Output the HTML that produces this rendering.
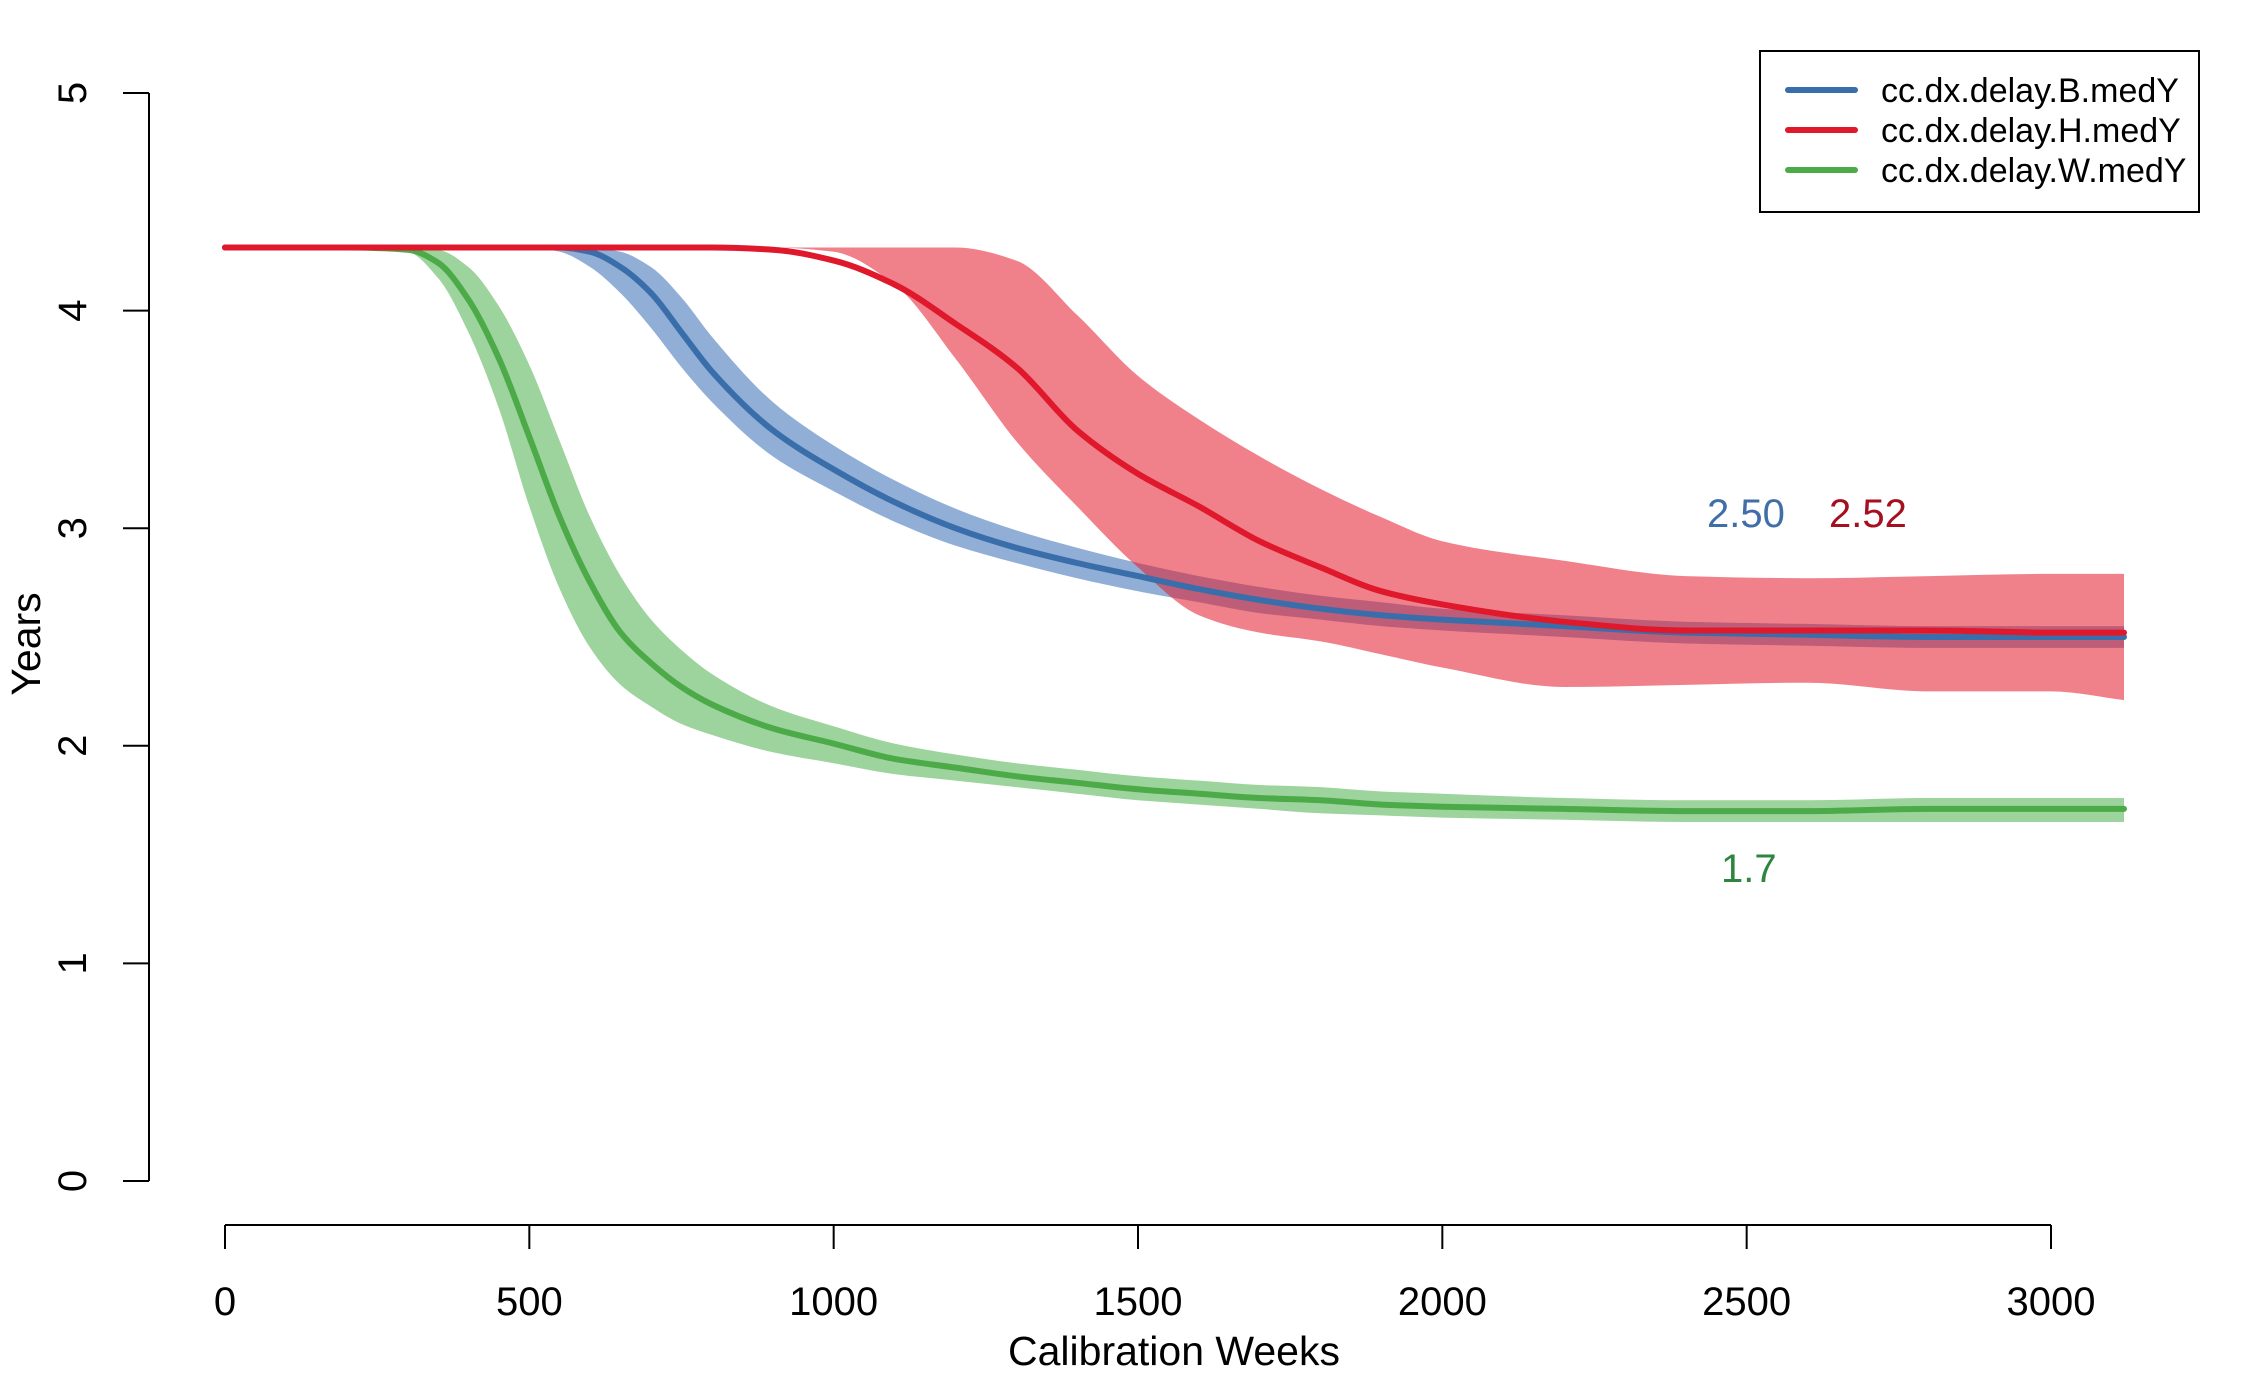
<!DOCTYPE html>
<html><head><meta charset="utf-8"><style>
html,body{margin:0;padding:0;background:#fff;}
svg{display:block;font-family:"Liberation Sans",Arial,sans-serif;}
</style></head><body>
<svg id="chart" width="2250" height="1375" viewBox="0 0 2250 1375" xmlns="http://www.w3.org/2000/svg">
<g id="bands"></g>
<g id="lines"></g>
<g id="axes"></g>
<text x="0" y="0" font-size="41" text-anchor="middle" transform="translate(40,644) rotate(-90)">Years</text>
<text x="1174" y="1365" font-size="41" text-anchor="middle">Calibration Weeks</text>
<text x="1707" y="527" font-size="40" fill="#3F6EA8">2.50</text>
<text x="1829" y="527" font-size="40" fill="#A50F1E">2.52</text>
<text x="1721" y="882" font-size="40" fill="#2E8540">1.7</text>
<g>
<rect x="1760" y="51" width="439" height="161" fill="#fff" stroke="#000" stroke-width="2"/>
<line x1="1788" y1="90" x2="1855" y2="90" stroke="#3A6EAA" stroke-width="6" stroke-linecap="round"/>
<line x1="1788" y1="130" x2="1855" y2="130" stroke="#E0182C" stroke-width="6" stroke-linecap="round"/>
<line x1="1788" y1="170" x2="1855" y2="170" stroke="#4DAA48" stroke-width="6" stroke-linecap="round"/>
<text x="1881" y="102" font-size="34">cc.dx.delay.B.medY</text>
<text x="1881" y="142" font-size="34">cc.dx.delay.H.medY</text>
<text x="1881" y="182" font-size="34">cc.dx.delay.W.medY</text>
</g>
</svg>
<script>
const weeks = [0,100,200,300,350,400,450,500,550,600,650,700,750,800,900,1000,1100,1200,1300,1400,1500,1600,1700,1800,1900,2000,2200,2400,2600,2800,3000,3120];
const greenMed = [4.29,4.29,4.29,4.28,4.22,4.05,3.78,3.42,3.05,2.75,2.52,2.38,2.27,2.19,2.08,2.01,1.94,1.90,1.86,1.83,1.80,1.78,1.76,1.75,1.73,1.72,1.71,1.70,1.70,1.71,1.71,1.71];
const greenHi = [4.29,4.29,4.29,4.29,4.28,4.20,4.02,3.75,3.40,3.05,2.78,2.58,2.44,2.33,2.18,2.09,2.01,1.96,1.92,1.89,1.86,1.84,1.82,1.81,1.79,1.78,1.76,1.75,1.75,1.76,1.76,1.76];
const greenLo = [4.29,4.29,4.29,4.27,4.15,3.90,3.55,3.10,2.72,2.45,2.28,2.18,2.10,2.05,1.97,1.92,1.87,1.84,1.81,1.78,1.75,1.73,1.71,1.69,1.68,1.67,1.66,1.65,1.65,1.65,1.65,1.65];
const blueMed = [4.29,4.29,4.29,4.29,4.29,4.29,4.29,4.29,4.29,4.27,4.20,4.08,3.90,3.72,3.45,3.27,3.12,3.00,2.91,2.84,2.78,2.72,2.67,2.63,2.60,2.58,2.55,2.52,2.51,2.50,2.50,2.50];
const blueHi = [4.29,4.29,4.29,4.29,4.29,4.29,4.29,4.29,4.29,4.29,4.27,4.20,4.06,3.88,3.58,3.38,3.22,3.09,2.99,2.91,2.84,2.78,2.73,2.69,2.66,2.63,2.60,2.57,2.56,2.55,2.55,2.55];
const blueLo = [4.29,4.29,4.29,4.29,4.29,4.29,4.29,4.29,4.27,4.20,4.08,3.92,3.74,3.58,3.33,3.17,3.03,2.92,2.84,2.77,2.71,2.66,2.61,2.58,2.55,2.53,2.50,2.47,2.46,2.45,2.45,2.45];
const redMed = [4.29,4.29,4.29,4.29,4.29,4.29,4.29,4.29,4.29,4.29,4.29,4.29,4.29,4.29,4.28,4.23,4.12,3.94,3.74,3.45,3.25,3.10,2.94,2.82,2.71,2.65,2.57,2.53,2.53,2.53,2.52,2.52];
const redHi = [4.29,4.29,4.29,4.29,4.29,4.29,4.29,4.29,4.29,4.29,4.29,4.29,4.29,4.29,4.29,4.29,4.29,4.29,4.23,3.98,3.70,3.50,3.33,3.18,3.05,2.94,2.85,2.78,2.77,2.78,2.79,2.79];
const redLo = [4.29,4.29,4.29,4.29,4.29,4.29,4.29,4.29,4.29,4.29,4.29,4.29,4.29,4.29,4.29,4.27,4.12,3.78,3.40,3.10,2.82,2.60,2.52,2.48,2.42,2.36,2.27,2.28,2.29,2.25,2.25,2.21];
const xTicks = [0,500,1000,1500,2000,2500,3000];
const yTicks = [0,1,2,3,4,5];

const NS = "http://www.w3.org/2000/svg";
function X(w){ return 225 + w*(1826/3000); }
function Y(v){ return 1181 - v*217.6; }
function mk(tag, attrs, parent){
  const e = document.createElementNS(NS, tag);
  for (const k in attrs) e.setAttribute(k, attrs[k]);
  parent.appendChild(e);
  return e;
}
// monotone cubic (Fritsch-Carlson) path
function smoothPath(pts, startCmd){
  const n = pts.length;
  const dx = [], m = [], t = new Array(n);
  for (let i=0;i<n-1;i++){ dx[i]=pts[i+1][0]-pts[i][0]; m[i]=(pts[i+1][1]-pts[i][1])/dx[i]; }
  t[0]=m[0]; t[n-1]=m[n-2];
  for (let i=1;i<n-1;i++){
    if (m[i-1]*m[i] <= 0) t[i]=0;
    else { const w1=2*dx[i]+dx[i-1], w2=dx[i]+2*dx[i-1]; t[i]=(w1+w2)/(w1/m[i-1]+w2/m[i]); }
  }
  let d = (startCmd||"M") + pts[0][0].toFixed(1) + "," + pts[0][1].toFixed(1);
  for (let i=0;i<n-1;i++){
    const h = dx[i]/3;
    d += " C" + (pts[i][0]+h).toFixed(1)+","+(pts[i][1]+t[i]*h).toFixed(1)+" "+(pts[i+1][0]-h).toFixed(1)+","+(pts[i+1][1]-t[i+1]*h).toFixed(1)+" "+pts[i+1][0].toFixed(1)+","+pts[i+1][1].toFixed(1);
  }
  return d;
}
function revPath(pts){
  // pts given in reverse x order; build by mirroring x
  const mir = pts.map(p=>[-p[0],p[1]]);
  return smoothPath(mir, "L").replace(/(-?\d+\.\d),(-?\d+\.\d)/g, (s,a,b)=>(-parseFloat(a)).toFixed(1)+","+b);
}
const bands = document.getElementById('bands');
const lines = document.getElementById('lines');
const axes = document.getElementById('axes');

function band(hi, lo, fill, name){
  const top = weeks.map((w,i)=>[X(w),Y(hi[i])]);
  const bot = weeks.map((w,i)=>[X(w),Y(lo[i])]).reverse();
  const d = smoothPath(top) + " " + revPath(bot) + " Z";
  const p = mk('path', {d:d, fill:fill, stroke:'none'}, bands);
  
  
}
band(greenHi, greenLo, 'rgba(77,175,74,0.55)', 'band-w');
band(blueHi, blueLo, 'rgba(55,110,180,0.55)', 'band-b');
band(redHi, redLo, 'rgba(228,26,44,0.55)', 'band-h');

function line(vals, color, name){
  const pts = weeks.map((w,i)=>[X(w),Y(vals[i])]);
  const p = mk('path', {d:smoothPath(pts), fill:'none', stroke:color, 'stroke-width':6, 'stroke-linecap':'round'}, lines);
  
  
}
line(greenMed, '#4DAA48', 'line-w');
line(blueMed, '#3A6EAA', 'line-b');
line(redMed, '#E0182C', 'line-h');

const ya = mk('line', {x1:149, y1:Y(5), x2:149, y2:Y(0), stroke:'#000', 'stroke-width':2}, axes);


yTicks.forEach(v=>{
  const t = mk('line', {x1:123, y1:Y(v), x2:149, y2:Y(v), stroke:'#000', 'stroke-width':2}, axes);
  
  
  const l = mk('text', {transform:'translate(86,'+Y(v)+') rotate(-90)', 'font-size':40, 'text-anchor':'middle'}, axes);
  l.textContent = v;
  
  
});
const xa = mk('line', {x1:X(0), y1:1225, x2:X(3000), y2:1225, stroke:'#000', 'stroke-width':2}, axes);


xTicks.forEach(v=>{
  const t = mk('line', {x1:X(v), y1:1225, x2:X(v), y2:1249, stroke:'#000', 'stroke-width':2}, axes);
  
  
  const l = mk('text', {x:X(v), y:1315, 'font-size':40, 'text-anchor':'middle'}, axes);
  l.textContent = v;
  
  
});
</script>
</body></html>
